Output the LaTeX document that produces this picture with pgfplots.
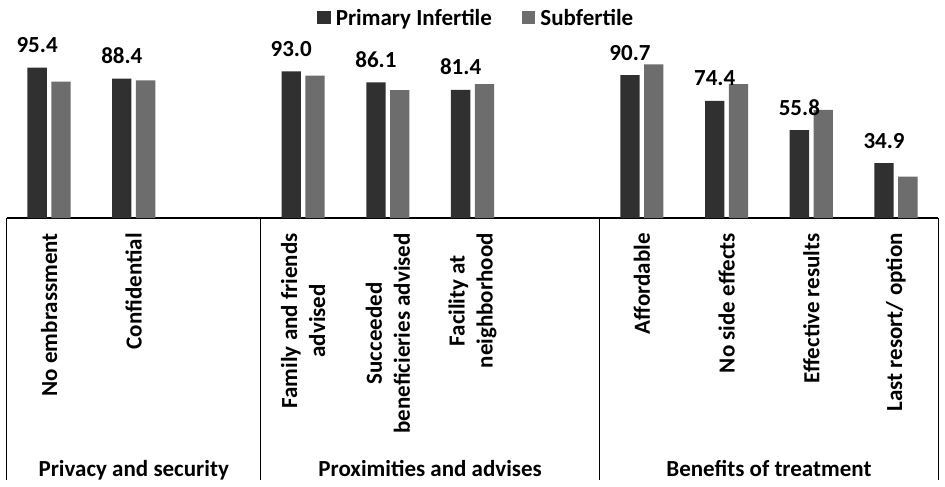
\documentclass[border=0pt]{standalone}
\usepackage{fontspec}
\setmainfont{Carlito}
\usepackage{pgfplots}
\pgfplotsset{compat=1.18}
\definecolor{cprim}{HTML}{303030}
\definecolor{csub}{HTML}{6D6D6D}
\newcommand{\lblfont}{\fontsize{23}{28}\selectfont\bfseries}
\begin{document}
\begin{tikzpicture}
\begin{axis}[
  name=ax,
  scale only axis,
  width=931.6pt, height=157.55pt,
  xmin=-0.5, xmax=10.5, ymin=0, ymax=100,
  enlargelimits=false,
  ybar=4.5pt, bar width=19.3pt,
  axis x line*=bottom, axis y line=none,
  x axis line style={line width=1.4pt, -},
  xtick={0,1,3,4,5,7,8,9,10},
  xticklabels={No embrassment, Confidential, {Family and friends\\advised}, {Succeeded\\beneficieries advised}, {Facility at\\neighborhood}, Affordable, No side effects, Effective results, Last resort/ option},
  major tick length=0pt,
  xticklabel style={rotate=90, anchor=east, align=center, inner sep=0pt, font=\lblfont},
  xticklabel shift=15pt,
  ytick=\empty,
  clip=false,
  legend columns=-1,
  legend style={draw=none, fill=none, inner sep=0pt, outer sep=0pt,
    at={(0.3334,1)}, anchor=south west, yshift=33.5pt,
    font=\lblfont, nodes={inner sep=0pt},
    /tikz/every odd column/.append style={column sep=5pt},
    /tikz/every even column/.append style={column sep=30pt}},
  legend image code/.code={\fill[#1] (0pt,-5.6pt) rectangle (13.5pt,7pt);},
]
\addplot+[fill=cprim, draw=none,
  nodes near coords={\pgfmathprintnumber[fixed,fixed zerofill,precision=1,assume math mode=true]{\pgfplotspointmeta}},
  nodes near coords style={anchor=base, yshift=15pt, font=\lblfont, text=black}]
  coordinates {(0,95.4) (1,88.4) (3,93.0) (4,86.1) (5,81.4) (7,90.7) (8,74.4) (9,55.8) (10,34.9)};
\addlegendentry{Primary Infertile}
\addplot+[fill=csub, draw=none]
  coordinates {(0,86.5) (1,87.4) (3,90.3) (4,81.2) (5,85.0) (7,97.5) (8,85.0) (9,68.6) (10,26.2)};
\addlegendentry{Subfertile}
\draw[line width=1.3pt] (axis cs:-0.5,0) -- ([yshift=-262pt]axis cs:-0.5,0);
\draw[line width=1.3pt] (axis cs:2.5,0) -- ([yshift=-262pt]axis cs:2.5,0);
\draw[line width=1.3pt] (axis cs:6.5,0) -- ([yshift=-262pt]axis cs:6.5,0);
\draw[line width=1.3pt] (axis cs:10.5,0) -- ([yshift=-262pt]axis cs:10.5,0);
\node[anchor=base, font=\lblfont] at (axis cs:1,0) [yshift=-258pt] {Privacy and security};
\node[anchor=base, font=\lblfont] at (axis cs:4.5,0) [yshift=-258pt] {Proximities and advises};
\node[anchor=base, font=\lblfont] at (axis cs:8.5,0) [yshift=-258pt] {Benefits of treatment};
\end{axis}
\pgfresetboundingbox
\path ([xshift=-6.7pt,yshift=-269pt]ax.south west) rectangle ([xshift=6.7pt,yshift=60.45pt]ax.north east);
\end{tikzpicture}
\end{document}
